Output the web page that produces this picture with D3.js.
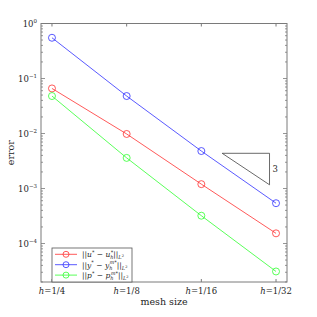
<!DOCTYPE html>
<html><head><meta charset="utf-8">
<script src="https://cdn.jsdelivr.net/npm/d3@7/dist/d3.min.js"></script>
<style>body{margin:0;background:#fff}svg{display:block}</style>
</head><body><svg id="c" width="317" height="317" font-family="DejaVu Serif"></svg>
<script>
const meshSizes = [1/4, 1/8, 1/16, 1/32];
const meshLabels = ["1/4", "1/8", "1/16", "1/32"];
const errU = [0.066, 0.0098, 0.0012, 0.000153];
const errY = [0.55, 0.048, 0.0048, 0.00054];
const errP = [0.048, 0.0036, 0.00032, 0.000031];
const yTickExps = [0, -1, -2, -3, -4];
const seriesColors = ["#ff3030", "#3030ff", "#30ff30"];
const slopeTri = {h0: 2**-4.279, h1: 2**-4.913, e0: 10**-2.36, order: 3};

const svg = d3.select("#c");
const L=41, R=287, T=23.5, B=282;
const x = d3.scaleLog().base(2).domain([2**-1.853, 2**-5.147]).range([L, R]);
const y = d3.scaleLog().domain([10**-4.7, 1]).range([B, T]);
const axisColor = "#7a7a7a";
const txtColor = "#262626";

svg.append("rect").attr("x",L).attr("y",T).attr("width",R-L).attr("height",B-T)
  .attr("fill","none").attr("stroke",axisColor).attr("stroke-width",1);

meshSizes.forEach(h=>{
  const xx = x(h);
  svg.append("line").attr("x1",xx).attr("x2",xx).attr("y1",B).attr("y2",B-3).attr("stroke",axisColor);
  svg.append("line").attr("x1",xx).attr("x2",xx).attr("y1",T).attr("y2",T+3).attr("stroke",axisColor);
});
meshLabels.forEach((lab,i)=>{
  const t = svg.append("text").attr("x",x(meshSizes[i])).attr("y",B+12).attr("text-anchor","middle").attr("font-size",8.5).attr("fill",txtColor);
  t.append("tspan").attr("font-style","italic").text("h");
  t.append("tspan").text("=" + lab);
});

const [d0,d1] = y.domain();
for (let e=-5; e<=0; e++){
  for (let m=1; m<10; m++){
    const v = m*10**e;
    if (v < d0*0.999 || v > d1*1.001) continue;
    const len = m===1 ? 4 : 2;
    const yy = y(v);
    svg.append("line").attr("x1",L).attr("x2",L+len).attr("y1",yy).attr("y2",yy).attr("stroke",axisColor).attr("stroke-width",0.8);
    svg.append("line").attr("x1",R).attr("x2",R-len).attr("y1",yy).attr("y2",yy).attr("stroke",axisColor).attr("stroke-width",0.8);
  }
}
yTickExps.forEach(e=>{
  const t = svg.append("text").attr("x",L-4).attr("y",y(10**e)+3).attr("text-anchor","end").attr("font-size",8.5).attr("fill",txtColor);
  t.append("tspan").text("10");
  t.append("tspan").attr("dy",-4).attr("font-size",5.5).text(e===0?"0":"\u2212"+(-e));
});

svg.append("text").attr("x",(L+R)/2).attr("y",305).attr("text-anchor","middle").attr("font-size",9.5).attr("fill",txtColor).text("mesh size");
svg.append("text").attr("transform",`translate(14,${(T+B)/2}) rotate(-90)`).attr("text-anchor","middle").attr("font-size",9.5).attr("fill",txtColor).text("error");

const series = [errU, errY, errP];
series.forEach((vals,i)=>{
  const pts = meshSizes.map((h,j)=>[x(h), y(vals[j])]);
  svg.append("path").attr("d", d3.line()(pts)).attr("fill","none").attr("stroke",seriesColors[i]).attr("stroke-width",0.8);
  pts.forEach(p=>svg.append("circle").attr("cx",p[0]).attr("cy",p[1]).attr("r",3.5).attr("fill","none").attr("stroke",seriesColors[i]).attr("stroke-width",0.8));
});

const e1 = slopeTri.e0 * (slopeTri.h1/slopeTri.h0)**slopeTri.order;
const triPts = [[x(slopeTri.h0),y(slopeTri.e0)],[x(slopeTri.h1),y(slopeTri.e0)],[x(slopeTri.h1),y(e1)]];
svg.append("path").attr("d", d3.line()(triPts)+"Z").attr("fill","none").attr("stroke","#444").attr("stroke-width",0.8);
svg.append("text").attr("x",x(slopeTri.h1)+3).attr("y",(y(slopeTri.e0)+y(e1))/2+3).attr("font-size",8.5).attr("fill",txtColor).text(slopeTri.order);

const lgX=52, lgY=248, lgW=80, lgH=34;
svg.append("rect").attr("x",lgX).attr("y",lgY).attr("width",lgW).attr("height",lgH).attr("fill","#fff").attr("stroke","#555").attr("stroke-width",0.8);
const legendVars = [["u","u","*"],["y","y","m*"],["p","p","m*"]];
legendVars.forEach((v,i)=>{
  const yy = lgY + 6.3 + i*10.4;
  svg.append("line").attr("x1",lgX+3).attr("x2",lgX+25).attr("y1",yy).attr("y2",yy).attr("stroke",seriesColors[i]).attr("stroke-width",0.8);
  svg.append("circle").attr("cx",lgX+14).attr("cy",yy).attr("r",3).attr("fill","none").attr("stroke",seriesColors[i]).attr("stroke-width",0.8);
  const t = svg.append("text").attr("x",lgX+30).attr("y",yy+3).attr("font-size",7.5).attr("fill",txtColor);
  t.append("tspan").text("||");
  t.append("tspan").attr("font-style","italic").text(v[0]);
  t.append("tspan").attr("dy",-3.5).attr("font-size",5).text("*");
  t.append("tspan").attr("dy",3.5).text(" \u2212 ");
  t.append("tspan").attr("font-style","italic").text(v[1]);
  t.append("tspan").attr("dy",2).attr("font-size",5).attr("font-style","italic").text("h");
  t.append("tspan").attr("dy",-5.5).attr("dx",-2.8).attr("font-size",5).attr("font-style","italic").text(v[2]);
  t.append("tspan").attr("dy",3.5).text("||");
  t.append("tspan").attr("dy",2).attr("font-size",5).attr("font-style","italic").text("L");
  t.append("tspan").attr("dy",-2).attr("font-size",3.5).text("2");
});
</script></body></html>
